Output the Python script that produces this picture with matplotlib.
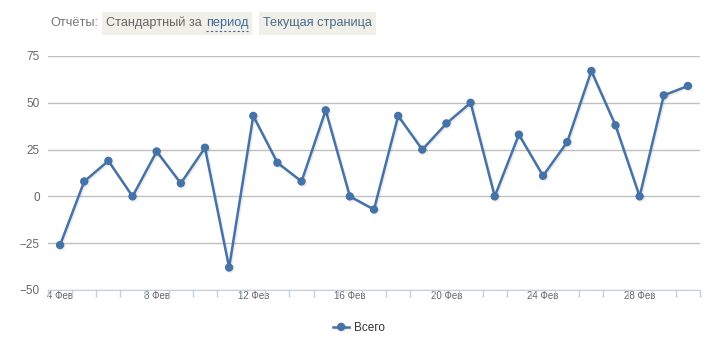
import matplotlib.pyplot as plt
import matplotlib.patheffects as pe
from matplotlib.patches import Rectangle

# данные
days = ["4 Фев", "5 Фев", "6 Фев", "7 Фев", "8 Фев", "9 Фев", "10 Фев", "11 Фев", "12 Фев",
        "13 Фев", "14 Фев", "15 Фев", "16 Фев", "17 Фев", "18 Фев", "19 Фев", "20 Фев",
        "21 Фев", "22 Фев", "23 Фев", "24 Фев", "25 Фев", "26 Фев", "27 Фев", "28 Фев",
        "29 Фев", "1 Мар"]
vsego = [-26, 8, 19, 0, 24, 7, 26, -38, 43, 18, 8, 46, 0, -7, 43, 25, 39, 50,
         0, 33, 11, 29, 67, 38, 0, 54, 59]
y_ticks = [-50, -25, 0, 25, 50, 75]

plt.rcParams["font.family"] = ["Liberation Sans", "DejaVu Sans"]

W, H = 718, 355
fig = plt.figure(figsize=(W / 100, H / 100), dpi=100)
ax = fig.add_axes([48 / W, 1 - 290 / H, 652 / W, 234 / H])

x = list(range(len(vsego)))
line, = ax.plot(x, vsego, color="#4572A7", lw=1.8, marker="o", ms=5,
                label="Всего", zorder=3)
line.set_path_effects([pe.SimpleLineShadow(offset=(1, -1), shadow_color="black", alpha=0.08),
                       pe.Normal()])

ax.set_xlim(-0.5, len(vsego) - 0.5)
ax.set_ylim(-50, 75)
ax.set_yticks(y_ticks)
ax.yaxis.grid(True, color="#C0C0C0", lw=1)
ax.set_axisbelow(True)
ax.tick_params(axis="y", length=0, labelsize=8.5, labelcolor="#666666", pad=6)

# подписи каждые 4 дня, засечки на границах категорий
ax.set_xticks(x[::4])
ax.set_xticklabels(days[::4])
ax.set_xticks([i - 0.5 for i in range(len(vsego) + 1)], minor=True)
ax.tick_params(axis="x", which="major", length=0, labelsize=7, labelcolor="#666666", pad=1)
ax.tick_params(axis="x", which="minor", length=5, color="#C0D0E0", width=1)

for s in ["top", "right", "left"]:
    ax.spines[s].set_visible(False)
ax.spines["bottom"].set_color("#C0D0E0")

# шапка с отчётами: тексты идут друг за другом
renderer = fig.canvas.get_renderer()
fs = 9.2
yc = 1 - 23 / H


def put(px, s, color):
    t = fig.text(px / W, yc, s, fontsize=fs, color=color, va="center")
    bb = t.get_window_extent(renderer)
    return bb.x1


def box(x0, x1):
    fig.add_artist(Rectangle((x0 / W, 1 - 35 / H), (x1 - x0) / W, 23 / H,
                             transform=fig.transFigure, facecolor="#F1F0E8",
                             edgecolor="none", zorder=0))


put(50, "Отчёты:", "#777777")
x0 = 102
end = put(x0 + 4, "Стандартный за", "#666666")
p0 = end + 4
end = put(p0, "период", "#3D6A9A")
fig.add_artist(plt.Line2D([p0 / W, end / W], [1 - 31 / H, 1 - 31 / H], transform=fig.transFigure,
                          color="#3D6A9A", lw=0.8, ls=(0, (2, 2))))
box(x0, end + 4)
x0 = end + 11
end = put(x0 + 4, "Текущая страница", "#4A6B8A")
box(x0, end + 4)

fig.legend(handles=[line], loc="center", bbox_to_anchor=(0.5, 1 - 328 / H), frameon=False,
           fontsize=8.5, labelcolor="#333333", handlelength=1.3, handletextpad=0.4)

fig.savefig("out.png", dpi=100)
